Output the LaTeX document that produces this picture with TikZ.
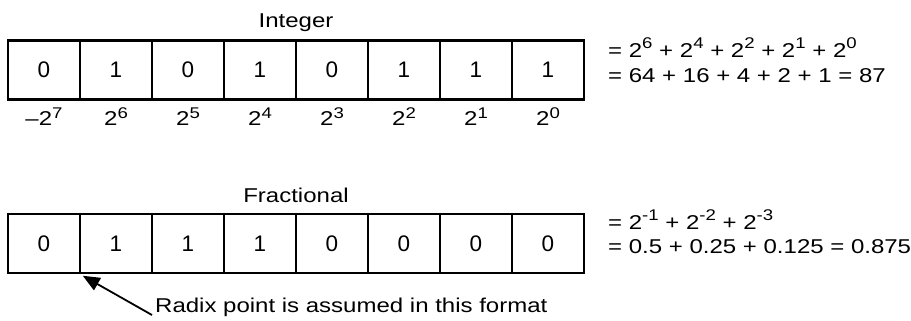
\documentclass[tikz,border=0pt]{standalone}
\usepackage{fontspec}
\setmainfont{Liberation Sans}[FakeStretch=1.2]
\newfontfamily\cellfont{Liberation Sans}
\usetikzlibrary{arrows.meta}
\newcommand\pw[2][9pt]{\raisebox{#1}{\fontsize{15.5}{15.5}\selectfont #2}}
\begin{document}
\begin{tikzpicture}[x=1pt,y=-1pt,
  cell/.style={draw, line width=2.5pt, minimum width=72pt, minimum height=59pt, inner sep=0pt, font=\cellfont\fontsize{22.5}{26}\selectfont},
  lbl/.style={inner sep=0pt, font=\fontsize{20}{24}\selectfont},
  pointer/.style={line width=1.8pt, -{Triangle[length=17pt,width=14pt]}}
]
\useasboundingbox (0,0) rectangle (911,321);
% integer register
\foreach \b [count=\i] in {0,1,0,1,0,1,1,1}
  \node[cell] (t\i) at ({44+72*(\i-1)},70) {\b};
\node[lbl, anchor=base] (int) at (296,28) {Integer};
\foreach \e [count=\i] in {{--2\pw[7pt]{7}},{2\pw[7pt]{6}},{2\pw[7pt]{5}},{2\pw[7pt]{4}},{2\pw[7pt]{3}},{2\pw[7pt]{2}},{2\pw[7pt]{1}},{2\pw[7pt]{0}}}
  \node[lbl, anchor=base] (w\i) at ({44+72*(\i-1)},125) {\e};
\node[lbl, anchor=base west] (e1) at (608,58) {= 2\pw{6} + 2\pw{4} + 2\pw{2} + 2\pw{1} + 2\pw{0}};
\node[lbl, anchor=base west] (e2) at (608,83) {= 64 + 16 + 4 + 2 + 1 = 87};
% fractional register
\foreach \b [count=\i] in {0,1,1,1,0,0,0,0}
  \node[cell] (b\i) at ({44+72*(\i-1)},243.5) {\b};
\node[lbl, anchor=base] (frac) at (296,202) {Fractional};
\node[lbl, anchor=base west] (f1) at (608,229) {= 2\pw{-1} + 2\pw{-2} + 2\pw{-3}};
\node[lbl, anchor=base west] (f2) at (608,253) {= 0.5 + 0.25 + 0.125 = 0.875};
\node[lbl, anchor=base west] (radix) at (155,312) {Radix point is assumed in this format};
\coordinate (tail) at (152,315);
\draw[pointer] (tail) -- ([shift={(1.5,1.5)}]b1.south east);
\end{tikzpicture}
\end{document}
